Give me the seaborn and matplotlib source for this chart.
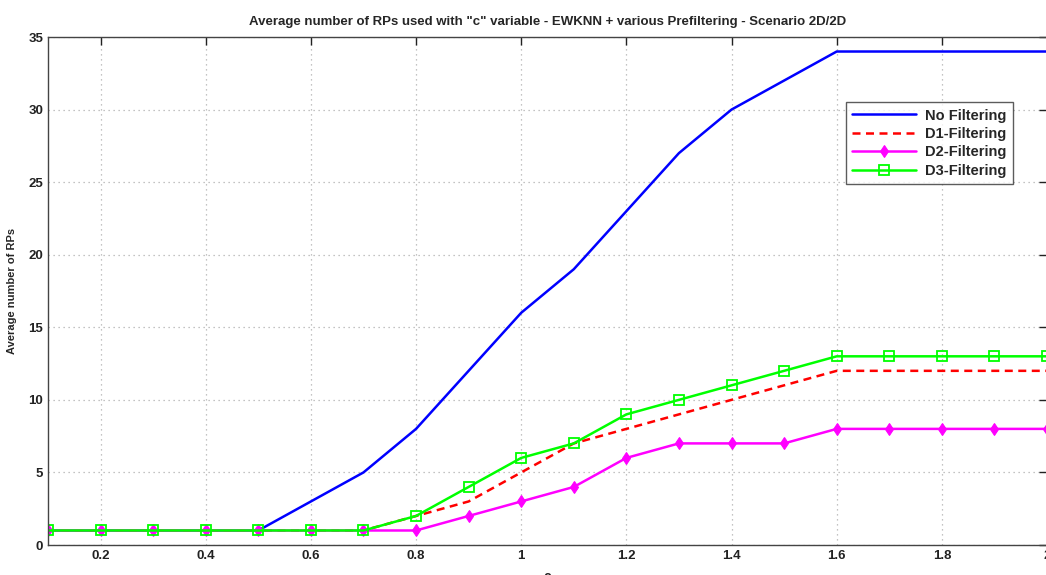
import numpy as np
import pandas as pd
import matplotlib
matplotlib.use("Agg")
import matplotlib.pyplot as plt
import seaborn as sns

# c values on the x axis
c_values = [0.1, 0.2, 0.3, 0.4, 0.5, 0.6, 0.7, 0.8, 0.9, 1.0,
            1.1, 1.2, 1.3, 1.4, 1.5, 1.6, 1.7, 1.8, 1.9, 2.0]

# average number of RPs for each prefiltering scheme
no_filtering = [1, 1, 1, 1, 1, 3, 5, 8, 12, 16, 19, 23, 27, 30, 32, 34, 34, 34, 34, 34]
d1_filtering = [1, 1, 1, 1, 1, 1, 1, 2, 3, 5, 7, 8, 9, 10, 11, 12, 12, 12, 12, 12]
d2_filtering = [1, 1, 1, 1, 1, 1, 1, 1, 2, 3, 4, 6, 7, 7, 7, 8, 8, 8, 8, 8]
d3_filtering = [1, 1, 1, 1, 1, 1, 1, 2, 4, 6, 7, 9, 10, 11, 12, 13, 13, 13, 13, 13]

series_names = ["No Filtering", "D1-Filtering", "D2-Filtering", "D3-Filtering"]
x_ticks = [0.2, 0.4, 0.6, 0.8, 1.0, 1.2, 1.4, 1.6, 1.8, 2.0]
x_tick_labels = ["0.2", "0.4", "0.6", "0.8", "1", "1.2", "1.4", "1.6", "1.8", "2"]
y_ticks = [0, 5, 10, 15, 20, 25, 30, 35]

sns.set_style("white")
plt.rcParams["font.family"] = ["Liberation Sans Narrow", "Liberation Sans", "DejaVu Sans"]

df = pd.DataFrame({
    "c": c_values * 4,
    "rps": no_filtering + d1_filtering + d2_filtering + d3_filtering,
    "scheme": sum([[n] * len(c_values) for n in series_names], []),
})

fig = plt.figure(figsize=(10.46, 5.75), dpi=100)
ax = fig.add_axes([48 / 1046, 1 - 545 / 575, 999 / 1046, 508 / 575])

styles = {
    "No Filtering": dict(color="#0000ff", linestyle="-"),
    "D1-Filtering": dict(color="#ff0000", linestyle=(0, (3.2, 2.2))),
    "D2-Filtering": dict(color="#ff00ff", linestyle="-", marker="d", markersize=6,
                         markerfacecolor="#ff00ff", markeredgecolor="#ff00ff"),
    "D3-Filtering": dict(color="#00ff00", linestyle="-", marker="s", markersize=6.5,
                         markerfacecolor="none", markeredgecolor="#00ff00",
                         markeredgewidth=1.3),
}

for name in series_names:
    sub = df[df["scheme"] == name]
    sns.lineplot(data=sub, x="c", y="rps", ax=ax, label=name, linewidth=1.8,
                 **styles[name])

ax.set_xlim(0.1, 2.0)
ax.set_ylim(0, 35)
ax.set_xticks(x_ticks)
ax.set_xticklabels(x_tick_labels)
ax.set_yticks(y_ticks)
ax.grid(True, color="#b0b0b0", linestyle=(0, (1, 3)), linewidth=0.9)
ax.tick_params(direction="in", length=6, width=1, labelsize=9.5,
               top=True, right=True, colors="#222222")
for lab in ax.get_xticklabels() + ax.get_yticklabels():
    lab.set_fontweight("bold")
for sp in ax.spines.values():
    sp.set_color("#444444")
    sp.set_linewidth(1.0)

ax.set_title('Average number of RPs used with "c" variable - EWKNN + various Prefiltering - Scenario 2D/2D',
             fontsize=9.5, fontweight="bold", pad=9)
ax.set_xlabel("c", fontsize=10, fontweight="bold", labelpad=6)
ax.set_ylabel("Average number of RPs", fontsize=8, fontweight="bold", labelpad=8)

leg = ax.legend(loc="upper left", bbox_to_anchor=(0.7985, 0.872), frameon=True,
                fancybox=False, edgecolor="#333333", fontsize=10.5,
                handlelength=4.4, borderaxespad=0.0,
                borderpad=0.45, labelspacing=0.3, handletextpad=0.6)
for txt in leg.get_texts():
    txt.set_fontweight("bold")
leg.get_frame().set_linewidth(1.0)

fig.savefig("out.png", dpi=100)
